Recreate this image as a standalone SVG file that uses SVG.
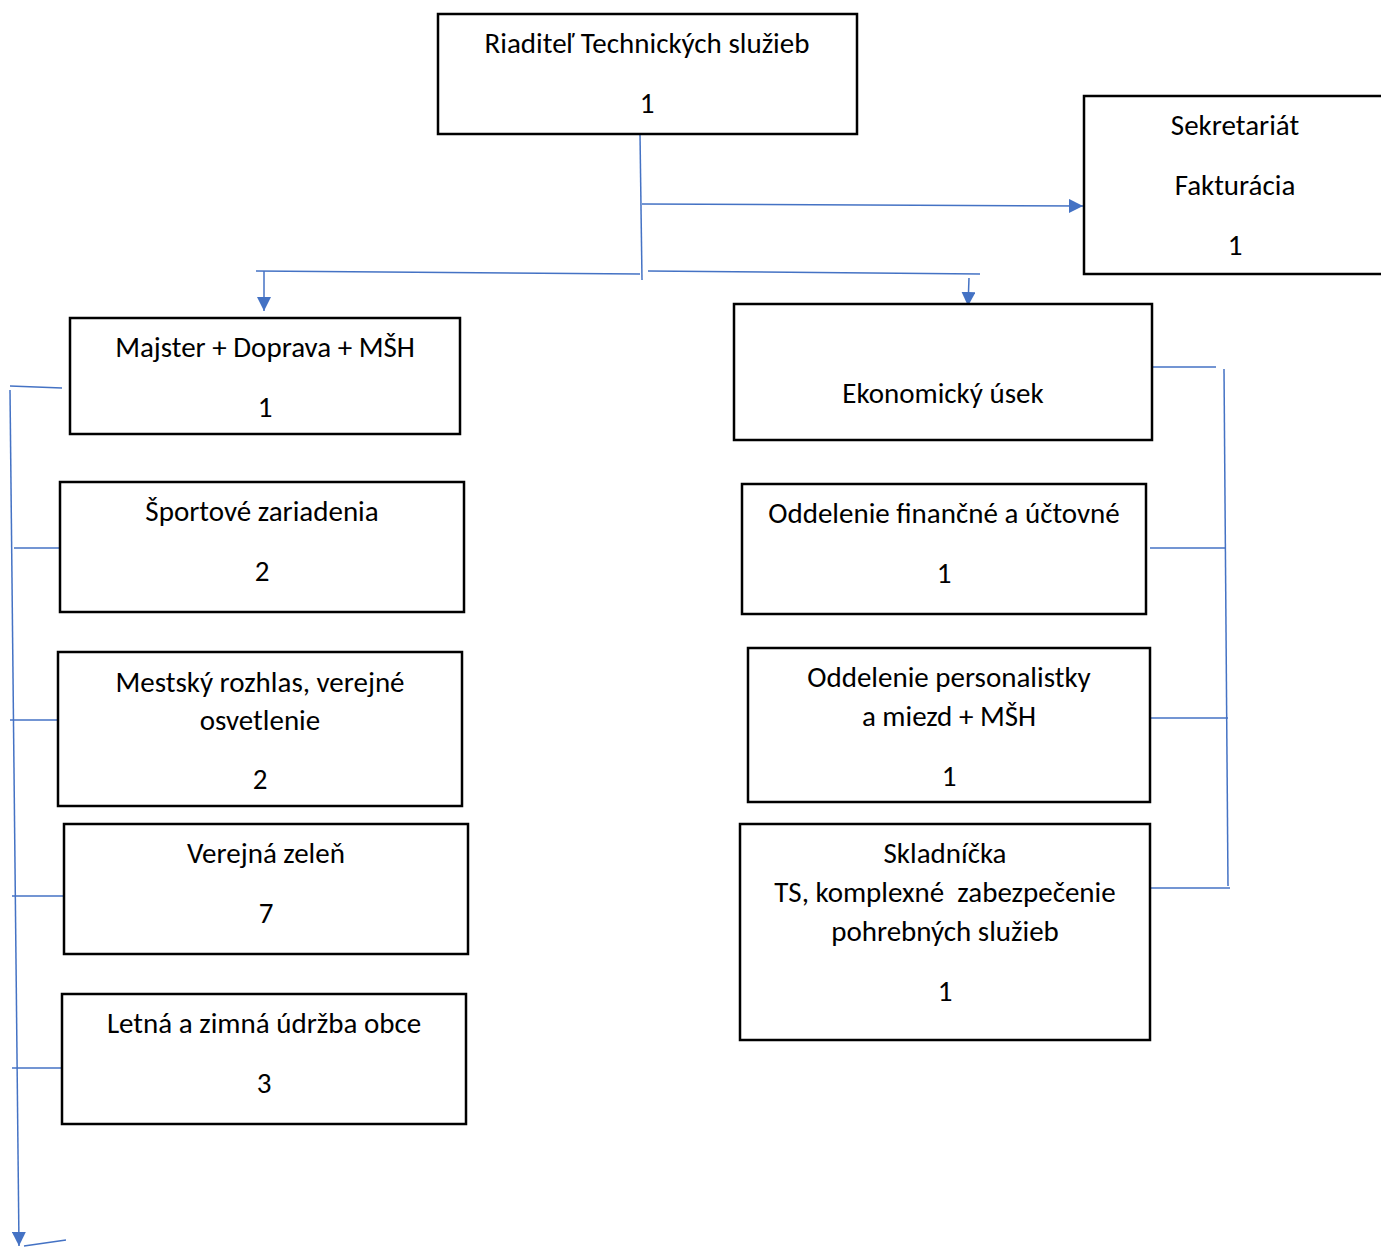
<svg xmlns="http://www.w3.org/2000/svg" width="1381" height="1247" viewBox="0 0 1381 1247">
<style>
.box{fill:#fff;stroke:#000;stroke-width:2.5}
.t{font-family:Carlito,"Liberation Sans",Arial,sans-serif;font-size:29px;fill:#000;text-anchor:middle}
.c{fill:none;stroke:#4472C4;stroke-width:1.5}
</style>
<defs>
<marker id="ah2" viewBox="0 0 10 10" refX="10" refY="5" markerWidth="14" markerHeight="14" markerUnits="userSpaceOnUse" orient="auto">
<path d="M0,0 L10,5 L0,10 z" fill="#4472C4"/>
</marker>
</defs>
<rect width="1381" height="1247" fill="#fff"/>
<g id="connectors">
<path class="c" d="M640,134 L642,280"/>
<path class="c" d="M642,204 L1083,206" marker-end="url(#ah2)"/>
<path class="c" d="M256,271 L640,274"/>
<path class="c" d="M264,271 L264,311" marker-end="url(#ah2)"/>
<path class="c" d="M648,271 L980,274"/>
<path class="c" d="M969,278 L968,306" marker-end="url(#ah2)"/>
<path class="c" d="M10,386 L62,388"/>
<path class="c" d="M10,390 L19,1246" marker-end="url(#ah2)"/>
<path class="c" d="M14,548 L60,548"/>
<path class="c" d="M10,720 L66,720"/>
<path class="c" d="M12,896 L64,896"/>
<path class="c" d="M12,1068 L62,1068"/>
<path class="c" d="M24,1246 L66,1240"/>
<path class="c" d="M1152,367 L1216,367"/>
<path class="c" d="M1224,369 L1228,886"/>
<path class="c" d="M1150,548 L1225,548"/>
<path class="c" d="M1150,718 L1228,718"/>
<path class="c" d="M1150,888 L1230,888"/>
</g>
<g id="n-riaditel">
<rect class="box" x="438" y="14" width="419" height="120"/>
<text class="t" x="647" y="53">Riaditeľ Technických služieb</text>
<text class="t" x="647" y="113">1</text>
</g>
<g id="n-sekretariat">
<rect class="box" x="1084" y="96" width="310" height="178"/>
<text class="t" x="1235" y="135">Sekretariát</text>
<text class="t" x="1235" y="195">Fakturácia</text>
<text class="t" x="1235" y="255">1</text>
</g>
<g id="n-majster">
<rect class="box" x="70" y="318" width="390" height="116"/>
<text class="t" x="265" y="357">Majster + Doprava + MŠH</text>
<text class="t" x="265" y="417">1</text>
</g>
<g id="n-ekonomicky">
<rect class="box" x="734" y="304" width="418" height="136"/>
<text class="t" x="943" y="403">Ekonomický úsek</text>
</g>
<g id="n-sportove">
<rect class="box" x="60" y="482" width="404" height="130"/>
<text class="t" x="262" y="521">Športové zariadenia</text>
<text class="t" x="262" y="581">2</text>
</g>
<g id="n-rozhlas">
<rect class="box" x="58" y="652" width="404" height="154"/>
<text class="t" x="260" y="692">Mestský rozhlas, verejné</text>
<text class="t" x="260" y="730">osvetlenie</text>
<text class="t" x="260" y="789">2</text>
</g>
<g id="n-zelen">
<rect class="box" x="64" y="824" width="404" height="130"/>
<text class="t" x="266" y="863">Verejná zeleň</text>
<text class="t" x="266" y="923">7</text>
</g>
<g id="n-udrzba">
<rect class="box" x="62" y="994" width="404" height="130"/>
<text class="t" x="264" y="1033">Letná a zimná údržba obce</text>
<text class="t" x="264" y="1093">3</text>
</g>
<g id="n-financne">
<rect class="box" x="742" y="484" width="404" height="130"/>
<text class="t" x="944" y="523">Oddelenie finančné a účtovné</text>
<text class="t" x="944" y="583">1</text>
</g>
<g id="n-personalistika">
<rect class="box" x="748" y="648" width="402" height="154"/>
<text class="t" x="949" y="687">Oddelenie personalistky</text>
<text class="t" x="949" y="726">a miezd + MŠH</text>
<text class="t" x="949" y="786">1</text>
</g>
<g id="n-skladnicka">
<rect class="box" x="740" y="824" width="410" height="216"/>
<text class="t" x="945" y="863">Skladníčka</text>
<text class="t" x="945" y="902" xml:space="preserve">TS, komplexné  zabezpečenie</text>
<text class="t" x="945" y="941">pohrebných služieb</text>
<text class="t" x="945" y="1001">1</text>
</g>
</svg>
